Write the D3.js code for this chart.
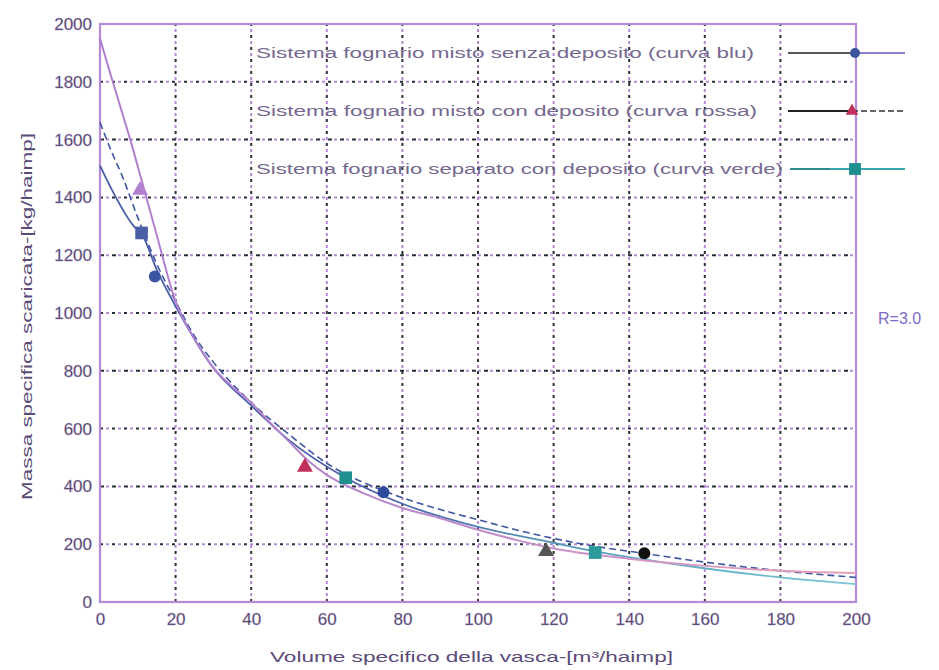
<!DOCTYPE html>
<html><head><meta charset="utf-8">
<script src="https://cdn.jsdelivr.net/npm/d3@7"></script>
<style>body{margin:0;background:#fff}</style>
</head><body>
<svg id="c" width="939" height="670"></svg>
<script>
// ---------- data ----------
const xTicks = [0,20,40,60,80,100,120,140,160,180,200];
const yTicks = [0,200,400,600,800,1000,1200,1400,1600,1800,2000];

// measured points
const blueX  = [14.5, 75, 144];   const blueY  = [1126, 380, 169];   // circles
const redX   = [10.6, 54.2, 118]; const redY   = [1425, 467, 175];   // triangles
const greenX = [11, 65, 131];     const greenY = [1277, 430, 171];   // squares

// fitted curves
const curveRedX = [0,2,5,8,11,15,20,25,30,35,40,45,50,55,60,70,80,90,100,110,120,140,160,180,200];
const curveRedY = [1950,1860,1730,1600,1460,1270,1040,910,810,745,690,620,555,490,440,375,325,290,250,215,185,150,125,108,100];
const curveBlueX = [0,3,6,10,15,20,25,30,40,50,60,75,90,100,110,120,130,144,160,180,200];
const curveBlueY = [1660,1560,1470,1330,1170,1040,920,830,690,580,480,385,320,285,250,220,195,168,138,108,85];
const curveGreenX = [0,3,9,11,15,21,30,40,50,65,80,100,120,131,150,180,200];
const curveGreenY = [1510,1430,1300,1275,1150,1000,810,680,560,430,340,260,205,175,135,85,62];

const legendLabels = [
  "Sistema fognario misto senza deposito (curva blu)",
  "Sistema fognario misto con deposito (curva rossa)",
  "Sistema fognario separato con deposito (curva verde)"
];
const xTitle = "Volume specifico della vasca-[m³/haimp]";
const yTitle = "Massa specifica scaricata-[kg/haimp]";
const note = "R=3.0";

// ---------- styles ----------
const purple = "#b48ad6", dark = "#2b2b3a", tickCol = "#3b3350";
const blueCol = "#3d55a0", tealCol = "#1f8e8e";
const circleColors = [blueCol, "#2d4a9c", "#111"];
const triColors = ["#b27fd0", "#c0305a", "#555"];
const squareColors = ["#4a5fa5", tealCol, "#2a9a9a"];

const svg = d3.select("#c");
const x = d3.scaleLinear().domain([0,200]).range([100,856]);
const y = d3.scaleLinear().domain([0,2000]).range([602,24]);

const defs = svg.append("defs");
const g1 = defs.append("linearGradient").attr("id","gt").attr("gradientUnits","userSpaceOnUse")
  .attr("x1",x(0)).attr("x2",x(200)).attr("y1",0).attr("y2",0);
g1.append("stop").attr("offset","0").attr("stop-color","#4a5fa8");
g1.append("stop").attr("offset","0.35").attr("stop-color","#4a5fa8");
g1.append("stop").attr("offset","0.7").attr("stop-color","#5aa8c0");
g1.append("stop").attr("offset","1").attr("stop-color","#7cc4d8");
const g2 = defs.append("linearGradient").attr("id","rt").attr("gradientUnits","userSpaceOnUse")
  .attr("x1",x(0)).attr("x2",x(200)).attr("y1",0).attr("y2",0);
g2.append("stop").attr("offset","0").attr("stop-color","#b07ed0");
g2.append("stop").attr("offset","0.4").attr("stop-color","#b888cc");
g2.append("stop").attr("offset","1").attr("stop-color","#e8a0b8");

// grid
const gridV = xTicks.filter(d=>d>0 && d<200), gridH = yTicks.filter(d=>d>0 && d<2000);
const grid = svg.append("g");
gridV.forEach(v=>{
  grid.append("line").attr("x1",x(v)).attr("x2",x(v)).attr("y1",y(0)).attr("y2",y(2000))
    .attr("stroke",dark).attr("stroke-width",2).attr("stroke-dasharray","3,9");
  grid.append("line").attr("x1",x(v)).attr("x2",x(v)).attr("y1",y(0)).attr("y2",y(2000))
    .attr("stroke",purple).attr("stroke-width",2).attr("stroke-dasharray","3,9").attr("stroke-dashoffset",6);
});
gridH.forEach((v,i)=>{
  grid.append("line").attr("x1",x(0)).attr("x2",x(200)).attr("y1",y(v)).attr("y2",y(v))
    .attr("stroke",dark).attr("stroke-width",2).attr("stroke-dasharray", i%2? "4,8":"3,9");
  grid.append("line").attr("x1",x(0)).attr("x2",x(200)).attr("y1",y(v)).attr("y2",y(v))
    .attr("stroke",purple).attr("stroke-width",2).attr("stroke-dasharray","3,9").attr("stroke-dashoffset",6);
});

// frame
svg.append("rect").attr("x",x(0)).attr("y",y(2000)).attr("width",x(200)-x(0)).attr("height",y(0)-y(2000))
  .attr("fill","none").attr("stroke",purple).attr("stroke-width",2.2);

// axes labels
const xa = svg.append("g").attr("transform",`translate(0,${y(0)})`)
  .call(d3.axisBottom(x).tickValues(xTicks).tickSize(0).tickPadding(13).tickFormat(d3.format("d")));
const ya = svg.append("g").attr("transform",`translate(${x(0)},0)`)
  .call(d3.axisLeft(y).tickValues(yTicks).tickSize(0).tickPadding(8).tickFormat(d3.format("d")));
[xa,ya].forEach(a=>{
  a.select(".domain").remove();
  a.selectAll("text").attr("fill",tickCol).attr("font-family","Liberation Sans, Arial, sans-serif")
    .attr("font-size",17).attr("stroke","#b49ad0").attr("stroke-width",0.4);
});
xa.selectAll("text").attr("dy","0.6em");

// curves
const line = d3.line().curve(d3.curveMonotoneX);
const pts = (xs,ys)=>xs.map((v,i)=>[x(v),y(ys[i])]);
svg.append("path").attr("d",line(pts(curveGreenX,curveGreenY))).attr("fill","none")
  .attr("stroke","url(#gt)").attr("stroke-width",1.8);
svg.append("path").attr("d",line(pts(curveBlueX,curveBlueY))).attr("fill","none")
  .attr("stroke","#3f55a0").attr("stroke-width",1.6).attr("stroke-dasharray","7,4");
svg.append("path").attr("d",line(pts(curveRedX,curveRedY))).attr("fill","none")
  .attr("stroke","url(#rt)").attr("stroke-width",2);

// markers
const tri = d3.symbol().type(d3.symbolTriangle).size(110);
const sq = d3.symbol().type(d3.symbolSquare).size(160);
redX.forEach((v,i)=>svg.append("path").attr("d",tri()).attr("transform",`translate(${x(v)},${y(redY[i])})`)
  .attr("fill",triColors[i]));
greenX.forEach((v,i)=>svg.append("path").attr("d",sq()).attr("transform",`translate(${x(v)},${y(greenY[i])})`)
  .attr("fill",squareColors[i]));
blueX.forEach((v,i)=>svg.append("circle").attr("cx",x(v)).attr("cy",y(blueY[i])).attr("r",6)
  .attr("fill",circleColors[i]));

// legend
const legY = [53,111,169];
const legEnd = [754,757,783];
legendLabels.forEach((t,i)=>{
  svg.append("text").attr("x",256).attr("y",legY[i]).attr("dy","0.35em").text(t)
    .attr("font-family","Liberation Sans, Arial, sans-serif").attr("font-size",15.5)
    .attr("fill","#76688f").attr("textLength",legEnd[i]-256).attr("lengthAdjust","spacingAndGlyphs");
});
svg.append("line").attr("x1",788).attr("x2",852).attr("y1",legY[0]).attr("y2",legY[0]).attr("stroke","#222").attr("stroke-width",1.6);
svg.append("line").attr("x1",852).attr("x2",905).attr("y1",legY[0]).attr("y2",legY[0]).attr("stroke","#8a80d0").attr("stroke-width",2);
svg.append("circle").attr("cx",855).attr("cy",legY[0]).attr("r",5).attr("fill",blueCol);
svg.append("line").attr("x1",788).attr("x2",852).attr("y1",legY[1]).attr("y2",legY[1]).attr("stroke","#222").attr("stroke-width",1.8);
svg.append("line").attr("x1",852).attr("x2",905).attr("y1",legY[1]).attr("y2",legY[1]).attr("stroke","#333").attr("stroke-width",1.4).attr("stroke-dasharray","6,3");
svg.append("path").attr("d",d3.symbol().type(d3.symbolTriangle).size(70)()).attr("transform",`translate(852,${legY[1]})`).attr("fill","#c0305a");
svg.append("line").attr("x1",790).attr("x2",905).attr("y1",legY[2]).attr("y2",legY[2]).attr("stroke","#3aa6b0").attr("stroke-width",2);
svg.append("line").attr("x1",790).attr("x2",830).attr("y1",legY[2]).attr("y2",legY[2]).attr("stroke","#2a6a70").attr("stroke-width",1.2);
svg.append("path").attr("d",d3.symbol().type(d3.symbolSquare).size(140)()).attr("transform",`translate(855,${legY[2]})`).attr("fill",tealCol);

// titles
svg.append("text").attr("x",270).attr("y",657).attr("dy","0.35em").text(xTitle)
  .attr("font-family","Liberation Sans, Arial, sans-serif").attr("font-size",15).attr("fill","#5a4a78")
  .attr("textLength",403).attr("lengthAdjust","spacingAndGlyphs");
svg.append("text").attr("transform","translate(27,500) rotate(-90)").attr("dy","0.35em").text(yTitle)
  .attr("font-family","Liberation Sans, Arial, sans-serif").attr("font-size",15).attr("fill","#5a4a78")
  .attr("textLength",367).attr("lengthAdjust","spacingAndGlyphs");
svg.append("text").attr("x",878).attr("y",318).attr("dy","0.35em").text(note)
  .attr("font-family","Liberation Sans, Arial, sans-serif").attr("font-size",16).attr("fill","#7c6cc8");
</script>
</body></html>
